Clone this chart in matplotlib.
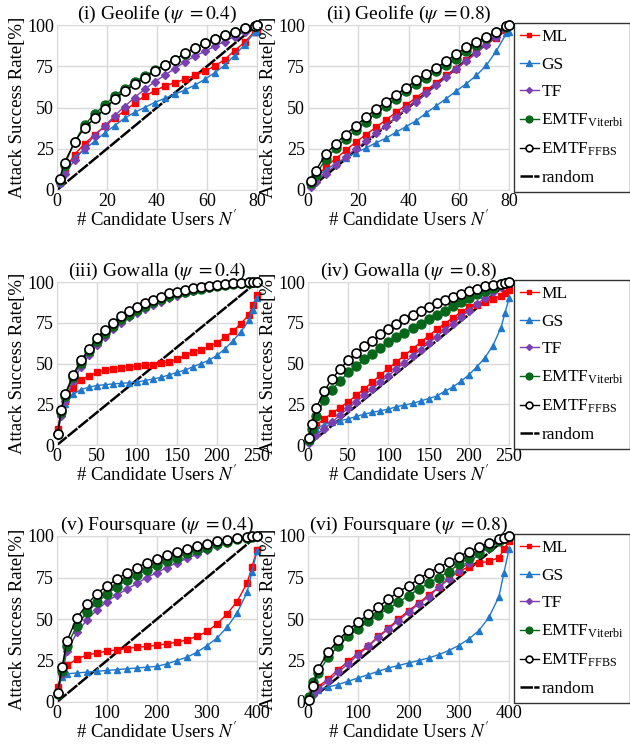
import matplotlib
matplotlib.use("Agg")
import matplotlib.pyplot as plt

plt.rcParams['font.family'] = ['Liberation Serif', 'DejaVu Serif']
plt.rcParams['mathtext.fontset'] = 'stix'

# ---------------- data ----------------
x_geo = [1, 3, 7, 11, 15, 19, 23, 27, 31, 35, 39, 43, 47, 51, 55, 59, 63, 67, 71, 75, 79, 80]
x_gow = [1, 5, 10, 20, 30, 40, 50, 60, 70, 80, 90, 100, 110, 120, 130, 140, 150, 160, 170,
         180, 190, 200, 210, 220, 230, 240, 245, 250]
x_fsq = [1, 10, 20, 40, 60, 80, 100, 120, 140, 160, 180, 200, 220, 240, 260, 280, 300, 320,
         340, 360, 380, 390, 400]

# (i) Geolife psi=0.4
geo04_ml = [5, 12, 21.5, 28, 33.5, 38.5, 43.5, 48, 52.5, 57, 60, 63, 65, 67, 69.5, 72, 75, 79, 84.5, 89.5, 96, 97]
geo04_gs = [4, 12, 20, 24.5, 29.5, 34.5, 39, 43.5, 47, 50, 53, 55.5, 58, 60.5, 63.5, 67, 71, 75.5, 81.5, 88, 95.5, 96]
geo04_tf = [4, 9.5, 18, 25.5, 33, 38.5, 45, 50.5, 56, 61, 65.5, 69.5, 73.5, 77.5, 81, 84, 87, 90, 93, 96, 99, 100]
geo04_vit = [6, 15, 29, 39.5, 46, 51.5, 57, 61.5, 65.5, 69, 72.5, 76, 79, 82.5, 86, 89, 91.5, 94, 96, 98, 99.6, 100]
geo04_ffbs = [6.7, 16.6, 29, 37.8, 43.4, 49, 55, 60, 64, 68, 72, 75.8, 78.8, 82.8, 85.9, 89, 91.5, 94, 96, 98, 99.6, 100]

# (ii) Geolife psi=0.8
geo08_ml = [3, 7, 14, 19, 24, 29, 33.5, 38, 42.5, 47, 51.5, 56, 60.5, 65, 69.5, 73.5, 78.5, 83.5, 88.5, 92, 97, 100]
geo08_gs = [4, 8, 12, 16, 19.4, 22.6, 25.4, 28.6, 31.4, 35, 38.4, 42, 46.6, 51, 55.4, 60, 64.4, 69.4, 75.6, 84.4, 95, 96]
geo08_tf = [2, 5, 10, 15, 20, 25, 29.5, 34.5, 39, 44, 49, 53.5, 58.5, 63.5, 68.5, 73.5, 78, 83, 88, 93, 98, 100]
geo08_vit = [4.5, 9, 18.5, 25.5, 31, 36.5, 41.5, 46.5, 51, 55, 60, 64, 68, 72, 75.5, 79.5, 84, 88, 92, 95.5, 99, 100]
geo08_ffbs = [5.4, 11.6, 21.6, 28, 33.6, 39, 44, 49, 53.4, 57.6, 62, 66.4, 70.6, 74, 78, 82.6, 86.4, 89.6, 93, 96, 99.4, 100]

# (iii) Gowalla psi=0.4
gow04_ml = [10, 20, 27, 35, 40, 42.5, 44.5, 45.8, 46.8, 47.5, 48, 48.3, 48.8, 49.3, 50.2, 51, 52.5, 55, 57,
            58.5, 60.5, 62.8, 66, 70, 74.5, 80, 86, 92]
gow04_gs = [8, 19, 25, 31, 34, 35.5, 36.5, 37, 37.5, 37.8, 38.2, 38.6, 39.5, 40.5, 41.5, 43, 44.5, 46, 48,
            50, 52, 55, 59, 64, 69.5, 76.5, 83, 90]
gow04_tf = [6, 18, 27, 39, 48, 55, 61.5, 66.5, 71, 75, 78.5, 81, 83.5, 86, 88, 90, 91.5, 93, 94.5, 95.5,
            96.5, 97.5, 98, 98.5, 99, 99.5, 99.7, 100]
gow04_vit = [7, 20, 30, 41.5, 50.5, 57.5, 63.5, 68.5, 73, 77, 80, 83, 85.5, 87.5, 89.5, 91.5, 93, 94, 95,
             96, 97, 97.5, 98, 99, 99.3, 99.6, 99.8, 100]
gow04_ffbs = [6.8, 21.5, 31, 43, 52, 59, 65.6, 70.7, 74.8, 79, 82, 84.6, 87, 89, 91, 93, 94, 95, 96.3, 97,
              97.7, 98.4, 99, 99.4, 99.6, 99.7, 99.8, 100]

# (iv) Gowalla psi=0.8
gow08_ml = [3, 8, 12, 16, 19.5, 23, 26.5, 30.5, 34.5, 38.5, 43, 47, 51, 55, 59, 63, 67, 71, 74.5, 78,
            81.5, 84.5, 86, 88, 89.5, 91.5, 93, 95]
gow08_gs = [4, 8, 10, 12.5, 14, 15, 16, 17.5, 19, 20, 21, 22, 23.5, 24.5, 25.5, 27, 28.5, 30, 33, 35.5,
            39, 43, 48, 53.5, 61, 72, 81, 90]
gow08_tf = [1.5, 4, 6, 10, 14, 18.5, 22.5, 26.5, 30.5, 34.5, 38.5, 42.5, 46.5, 50.5, 54.5, 58.5, 62.5,
            66.5, 70.5, 74.5, 78.5, 82.5, 86.5, 90, 94, 97, 98.5, 100]
gow08_vit = [3, 10, 17.5, 27.5, 34, 39.5, 44.5, 48.5, 52.5, 56, 59.5, 63, 66, 68.5, 71.5, 74, 77, 79.5,
             82, 85, 87.5, 90, 92.5, 94.5, 96.5, 98.5, 99.2, 100]
gow08_ffbs = [4, 13, 22.5, 33, 40.5, 46.8, 52, 56.6, 61, 64, 68, 71, 74.3, 77, 79.7, 82.3, 84.7, 87, 89,
              91, 92.8, 94.4, 96, 97.4, 98.4, 99, 99.5, 100]

# (v) Foursquare psi=0.4
fsq04_ml = [9, 17, 22, 26, 28.3, 29.5, 30.6, 31.5, 32.2, 33, 33.5, 34.2, 35, 36, 37.5, 39.5, 42.5, 47, 53,
            60.5, 71.5, 81.5, 91.5]
fsq04_gs = [7, 15, 17, 17.5, 18, 18.5, 19, 19.5, 20, 20.5, 21, 21.5, 23, 25, 27, 30, 34, 38.5, 45, 53.5,
            66, 78.5, 91]
fsq04_tf = [5, 17, 30.5, 42, 49.5, 55.5, 60.5, 64.5, 68, 71.5, 75, 78, 81, 84, 86.5, 89, 91.5, 94, 96, 98,
            99, 99.5, 100]
fsq04_vit = [5, 18.5, 34, 46, 54, 60, 65, 69.5, 73.5, 76.5, 79.5, 82.5, 85, 87, 89.5, 91.5, 93, 95, 96.5,
             98, 99, 99.5, 100]
fsq04_ffbs = [5.6, 21, 37, 50.8, 58.8, 65.3, 70, 74, 78, 81, 84, 86, 88.4, 90.4, 92.4, 94, 95.4, 96.8,
              97.8, 98.8, 99.4, 99.7, 100]

# (vi) Foursquare psi=0.8
fsq08_ml = [2, 6, 9, 14, 19.5, 24.5, 29.5, 34, 39.5, 44.5, 50, 55, 59.5, 64.5, 69, 74.5, 78.5, 81.5, 83.7,
            84.7, 87, 92, 97]
fsq08_gs = [2, 5.5, 7.5, 9, 10.5, 12.5, 14.5, 16.5, 18.5, 20.5, 22, 23.5, 25, 26.5, 28.5, 31, 34, 38, 43,
            51, 63.5, 78, 92]
fsq08_tf = [1, 4.5, 8, 12.5, 18, 23, 28.5, 33.5, 39, 44, 49, 54, 59, 63.5, 69, 74, 79, 84, 89, 93, 97,
            98.5, 100]
fsq08_vit = [3, 12, 17.5, 27, 33.5, 39.5, 44, 48.5, 52.5, 56.5, 60, 64, 68, 71.5, 75, 78.5, 83, 86.5, 90,
             93.5, 97, 98.5, 100]
fsq08_ffbs = [1, 9.4, 20, 30, 37.3, 43.2, 48.2, 52.8, 57.2, 62, 66.3, 70, 74, 78, 81, 84.3, 87.6, 90.6,
              93.2, 96, 98.2, 99, 100]

titles = [r"(i) Geolife ($\psi\ = 0.4$)", r"(ii) Geolife ($\psi\ = 0.8$)",
          r"(iii) Gowalla ($\psi\ = 0.4$)", r"(iv) Gowalla ($\psi\ = 0.8$)",
          r"(v) Foursquare ($\psi\ = 0.4$)", r"(vi) Foursquare ($\psi\ = 0.8$)"]
xmax = [80, 80, 250, 250, 400, 400]
xticks = [[0, 20, 40, 60, 80], [0, 20, 40, 60, 80],
          [0, 50, 100, 150, 200, 250], [0, 50, 100, 150, 200, 250],
          [0, 100, 200, 300, 400], [0, 100, 200, 300, 400]]
yticks = [0, 25, 50, 75, 100]
series_names = ["ML", "GS", "TF", r"EMTF$_\mathregular{Viterbi}$", r"EMTF$_\mathregular{FFBS}$", "random"]

panels = [
    (x_geo, [geo04_ml, geo04_gs, geo04_tf, geo04_vit, geo04_ffbs]),
    (x_geo, [geo08_ml, geo08_gs, geo08_tf, geo08_vit, geo08_ffbs]),
    (x_gow, [gow04_ml, gow04_gs, gow04_tf, gow04_vit, gow04_ffbs]),
    (x_gow, [gow08_ml, gow08_gs, gow08_tf, gow08_vit, gow08_ffbs]),
    (x_fsq, [fsq04_ml, fsq04_gs, fsq04_tf, fsq04_vit, fsq04_ffbs]),
    (x_fsq, [fsq08_ml, fsq08_gs, fsq08_tf, fsq08_vit, fsq08_ffbs]),
]

styles = [
    dict(color='#ff0000', marker='s', ms=4.5, mfc='#ff0000', mec='#ff0000'),
    dict(color='#1f78cc', marker='^', ms=5, mfc='#1f78cc', mec='#1f78cc'),
    dict(color='#7a3fb0', marker='D', ms=4, mfc='#7a3fb0', mec='#7a3fb0'),
    dict(color='#06661a', marker='o', ms=6.5, mfc='#06661a', mec='#06661a'),
    dict(color='#000000', marker='o', ms=6.5, mfc='white', mec='black', mew=1.2),
]

fig = plt.figure(figsize=(6.3, 7.48), dpi=100)
W, H = 630.0, 748.0
col_x = [(57, 257), (308, 509)]
row_y = [(25, 190), (282, 445), (536, 702)]

FS_TICK = 13
FS_TITLE = 14
FS_LABEL = 13.5
FS_LEG = 12.5
for i, (xs, ys) in enumerate(panels):
    r, c = divmod(i, 2)
    x0, x1 = col_x[c]
    y0, y1 = row_y[r]
    ax = fig.add_axes([x0 / W, 1 - y1 / H, (x1 - x0) / W, (y1 - y0) / H])
    ax.set_xlim(0, xmax[i])
    ax.set_ylim(0, 100)
    ax.grid(True, color='#d9d9d9', lw=1)
    ax.set_axisbelow(True)
    for sp in ax.spines.values():
        sp.set_color('#d9d9d9')
    ax.set_xticks(xticks[i])
    ax.set_yticks(yticks)
    ax.tick_params(length=0, labelsize=FS_TICK, pad=2)
    handles = []
    for k, (yv, st) in enumerate(zip(ys, styles)):
        h, = ax.plot(xs, yv, lw=1.0, clip_on=False, zorder=3 + k, label=series_names[k], **st)
        handles.append(h)
    h, = ax.plot([0, xmax[i]], [0, 100], color='black', lw=1.8, ls=(0, (5, 0.5)),
                 zorder=2.5, label=series_names[5])
    handles.append(h)
    ax.set_title(titles[i], fontsize=FS_TITLE, pad=2)
    ax.set_xlabel(r"# Candidate Users $N'$", fontsize=FS_LABEL, labelpad=0)
    ax.set_ylabel("Attack Success Rate[%]", fontsize=FS_LABEL, labelpad=1)
    if c == 1:
        leg = ax.legend(handles=handles, loc='upper left', bbox_to_anchor=(1.025, 1.01),
                        borderaxespad=0, fontsize=FS_LEG, frameon=True, fancybox=False,
                        edgecolor='black', handlelength=1.1, handletextpad=0.15,
                        labelspacing=0.66, borderpad=0.33, markerscale=0.75)
        leg.get_frame().set_linewidth(1.0)

fig.savefig("out.png", dpi=100)
